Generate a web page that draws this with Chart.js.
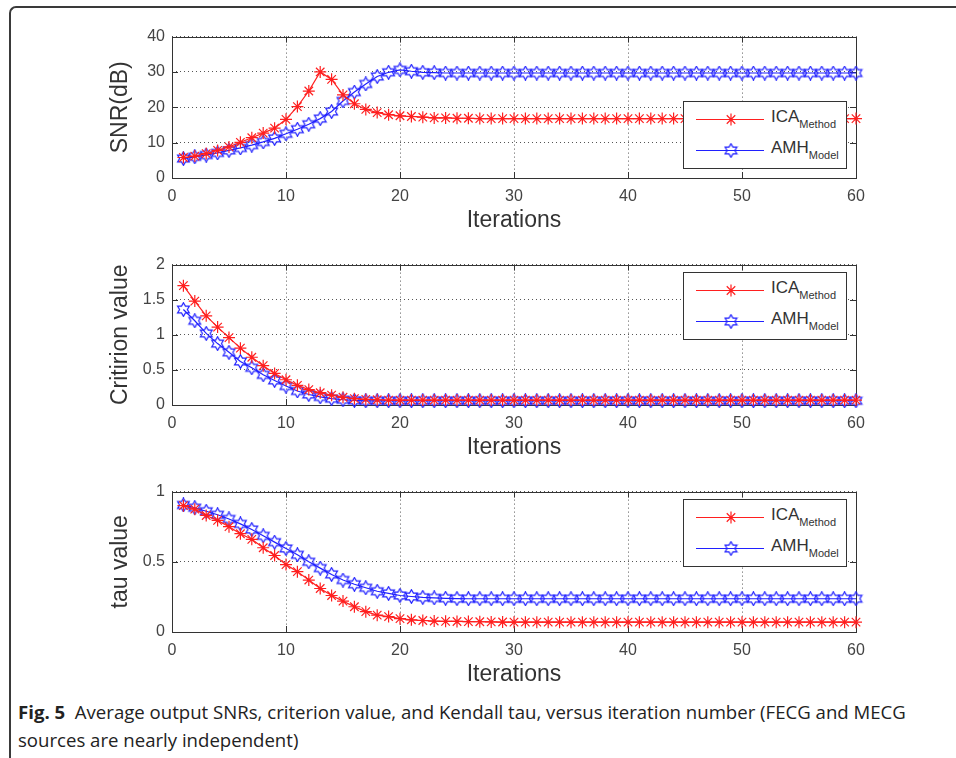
<!DOCTYPE html>
<html>
<head>
<meta charset="utf-8">
<script src="https://cdn.jsdelivr.net/npm/chart.js@4.4.0/dist/chart.umd.min.js"></script>
<style>
  body { margin: 0; background: #fff; width: 956px; height: 758px; overflow: hidden; position: relative; font-family: 'Liberation Sans', Arial, sans-serif; }
  .frame { position: absolute; left: 9px; top: 6px; width: 980px; height: 780px; border-left: 2px solid #3a3a3a; border-top: 2px solid #3a3a3a; border-top-left-radius: 7px; }
  .panel { position: absolute; left: 100px; }
  .legend { position: absolute; left: 683px; width: 164px; height: 68px; border: 1px solid #333; background: #fff; box-sizing: border-box; }
  .legend canvas { position: absolute; left: 12px; }
  .legend .lbl { position: absolute; left: 87px; font-size: 17px; color: #333; white-space: nowrap; }
  .legend .lbl sub { font-size: 11px; vertical-align: -6px; }
  .caption { position: absolute; left: 18px; top: 698px; font-family: 'Open Sans', sans-serif; font-size: 18.6px; line-height: 28px; color: #222; }
  .caption b { font-weight: 700; }
</style>
</head>
<body>
<div class="frame"></div>

<div class="panel" style="top:20px"><canvas id="snrChart" width="780" height="220"></canvas></div>
<div class="panel" style="top:248px"><canvas id="critChart" width="780" height="219"></canvas></div>
<div class="panel" style="top:475px"><canvas id="tauChart" width="780" height="219"></canvas></div>

<div class="caption"><b>Fig. 5</b>&nbsp; Average output SNRs, criterion value, and Kendall tau, versus iteration number (FECG and MECG<br>sources are nearly independent)</div>

<script>
// iteration numbers (x axis)
const iterations = [1, 2, 3, 4, 5, 6, 7, 8, 9, 10, 11, 12, 13, 14, 15, 16, 17, 18, 19, 20,
  21, 22, 23, 24, 25, 26, 27, 28, 29, 30, 31, 32, 33, 34, 35, 36, 37, 38, 39, 40,
  41, 42, 43, 44, 45, 46, 47, 48, 49, 50, 51, 52, 53, 54, 55, 56, 57, 58, 59, 60];
const xTicks = [0, 10, 20, 30, 40, 50, 60];

// SNR (dB)
const snrICA = [5.8, 6.2, 6.9, 7.8, 8.8, 10.1, 11.4, 12.7, 14.1, 16.6, 20.2, 24.6, 30.0, 27.9, 23.5, 21.0, 19.4, 18.5, 17.9, 17.6,
  17.4, 17.2, 17.0, 17.0, 16.9, 16.9, 16.8, 16.8, 16.8, 16.8, 16.8, 16.8, 16.8, 16.8, 16.8, 16.8, 16.8, 16.8, 16.8, 16.8,
  16.8, 16.8, 16.8, 16.8, 16.8, 16.8, 16.8, 16.8, 16.8, 16.8, 16.8, 16.8, 16.8, 16.8, 16.8, 16.8, 16.8, 16.8, 16.8, 16.8];
const snrAMH = [5.5, 6.0, 6.5, 7.1, 7.8, 8.5, 9.3, 10.2, 11.2, 12.5, 13.8, 15.2, 16.8, 18.8, 21.8, 24.3, 26.6, 28.7, 29.9, 30.6,
  30.2, 29.9, 29.8, 29.7, 29.7, 29.7, 29.7, 29.7, 29.7, 29.7, 29.7, 29.7, 29.7, 29.7, 29.7, 29.7, 29.7, 29.7, 29.7, 29.7,
  29.7, 29.7, 29.7, 29.7, 29.7, 29.7, 29.7, 29.7, 29.7, 29.7, 29.7, 29.7, 29.7, 29.7, 29.7, 29.7, 29.7, 29.7, 29.7, 29.7];
const snrTicks = [0, 10, 20, 30, 40];

// criterion value
const critICA = [1.70, 1.48, 1.27, 1.11, 0.96, 0.81, 0.68, 0.56, 0.45, 0.36, 0.28, 0.22, 0.175, 0.14, 0.11, 0.09, 0.08, 0.075, 0.07, 0.07,
  0.07, 0.07, 0.07, 0.07, 0.07, 0.07, 0.07, 0.07, 0.07, 0.07, 0.07, 0.07, 0.07, 0.07, 0.07, 0.07, 0.07, 0.07, 0.07, 0.07,
  0.07, 0.07, 0.07, 0.07, 0.07, 0.07, 0.07, 0.07, 0.07, 0.07, 0.07, 0.07, 0.07, 0.07, 0.07, 0.07, 0.07, 0.07, 0.07, 0.07];
const critAMH = [1.36, 1.20, 1.02, 0.875, 0.75, 0.62, 0.53, 0.43, 0.35, 0.27, 0.20, 0.15, 0.115, 0.09, 0.075, 0.065, 0.06, 0.06, 0.06, 0.06,
  0.06, 0.06, 0.06, 0.06, 0.06, 0.06, 0.06, 0.06, 0.06, 0.06, 0.06, 0.06, 0.06, 0.06, 0.06, 0.06, 0.06, 0.06, 0.06, 0.06,
  0.06, 0.06, 0.06, 0.06, 0.06, 0.06, 0.06, 0.06, 0.06, 0.06, 0.06, 0.06, 0.06, 0.06, 0.06, 0.06, 0.06, 0.06, 0.06, 0.06];
const critTicks = [0, 0.5, 1, 1.5, 2];

// Kendall tau
const tauICA = [0.90, 0.875, 0.83, 0.795, 0.75, 0.70, 0.66, 0.60, 0.545, 0.48, 0.43, 0.37, 0.31, 0.26, 0.22, 0.18, 0.145, 0.12, 0.11, 0.095,
  0.087, 0.082, 0.078, 0.076, 0.075, 0.074, 0.073, 0.072, 0.071, 0.07, 0.07, 0.07, 0.07, 0.07, 0.07, 0.07, 0.07, 0.07, 0.07, 0.07,
  0.07, 0.07, 0.07, 0.07, 0.07, 0.07, 0.07, 0.07, 0.07, 0.07, 0.07, 0.07, 0.07, 0.07, 0.07, 0.07, 0.07, 0.07, 0.07, 0.07];
const tauAMH = [0.905, 0.885, 0.86, 0.835, 0.805, 0.77, 0.73, 0.685, 0.64, 0.595, 0.55, 0.50, 0.455, 0.41, 0.37, 0.34, 0.315, 0.29, 0.275, 0.26,
  0.253, 0.247, 0.243, 0.24, 0.238, 0.237, 0.237, 0.237, 0.237, 0.237, 0.237, 0.237, 0.237, 0.237, 0.237, 0.237, 0.237, 0.237, 0.237, 0.237,
  0.237, 0.237, 0.237, 0.237, 0.237, 0.237, 0.237, 0.237, 0.237, 0.237, 0.237, 0.237, 0.237, 0.237, 0.237, 0.237, 0.237, 0.237, 0.237, 0.237];
const tauTicks = [0, 0.5, 1];

const RED = '#ff1f1f';
const BLUE = '#2020ff';

// hexagram marker (matlab 'h')
function hexagram(color) {
  const c = document.createElement('canvas');
  c.width = 15; c.height = 15;
  const g = c.getContext('2d');
  g.strokeStyle = color;
  g.lineWidth = 1.2;
  g.beginPath();
  for (let i = 0; i < 12; i++) {
    const r = i % 2 === 0 ? 6.8 : 3.9;
    const a = -Math.PI / 2 + i * Math.PI / 6;
    const px = 7.5 + r * Math.cos(a), py = 7.5 + r * Math.sin(a);
    if (i === 0) g.moveTo(px, py); else g.lineTo(px, py);
  }
  g.closePath();
  g.stroke();
  return c;
}
const hexMarker = hexagram(BLUE);

// box around the axes + inward tick marks, like matlab
const boxPlugin = {
  id: 'box',
  beforeDatasetsDraw(chart) {
    const { ctx, chartArea: a, scales } = chart;
    ctx.save();
    ctx.strokeStyle = '#333';
    ctx.lineWidth = 1;
    ctx.beginPath();
    scales.x.ticks.forEach(t => {
      const px = Math.round(scales.x.getPixelForValue(t.value)) + 0.5;
      ctx.moveTo(px, a.bottom); ctx.lineTo(px, a.bottom - 6);
      ctx.moveTo(px, a.top); ctx.lineTo(px, a.top + 6);
    });
    scales.y.ticks.forEach(t => {
      const py = Math.round(scales.y.getPixelForValue(t.value)) + 0.5;
      ctx.moveTo(a.left, py); ctx.lineTo(a.left + 6, py);
      ctx.moveTo(a.right, py); ctx.lineTo(a.right - 6, py);
    });
    ctx.stroke();
    ctx.strokeRect(Math.round(a.left) + 0.5, Math.round(a.top) + 0.5, Math.round(a.right - a.left), Math.round(a.bottom - a.top));
    ctx.restore();
  }
};

function makePanel(id, yTitle, yTicks, ica, amh) {
  const ctx = document.getElementById(id).getContext('2d');
  return new Chart(ctx, {
    type: 'line',
    data: {
      datasets: [{
        label: 'ICA',
        data: iterations.map((it, i) => ({ x: it, y: ica[i] })),
        borderColor: RED,
        borderWidth: 1.2,
        pointStyle: 'star',
        pointRadius: 6,
        pointBorderColor: RED,
        pointBorderWidth: 1.2,
        pointBackgroundColor: RED,
        clip: false
      }, {
        label: 'AMH',
        data: iterations.map((it, i) => ({ x: it, y: amh[i] })),
        borderColor: BLUE,
        borderWidth: 1.2,
        pointStyle: hexMarker,
        pointRadius: 6,
        clip: false
      }]
    },
    options: {
      responsive: false,
      animation: false,
      events: [],
      layout: { padding: { top: 12, right: 24, left: 0, bottom: 0 } },
      plugins: { legend: { display: false }, tooltip: { enabled: false } },
      scales: {
        x: {
          type: 'linear',
          min: xTicks[0],
          max: xTicks[xTicks.length - 1],
          afterBuildTicks: s => { s.ticks = xTicks.map(v => ({ value: v })); },
          afterFit: s => { s.height = 62; },
          grid: { color: '#555', drawTicks: false },
          border: { display: false, dash: [1, 3] },
          ticks: { padding: 9, color: '#444', font: { family: 'Liberation Sans', size: 16 }, callback: v => String(v) },
          title: { display: true, text: 'Iterations', color: '#333', padding: { top: 0, bottom: 6 }, font: { family: 'Liberation Sans', size: 23 } }
        },
        y: {
          min: yTicks[0],
          max: yTicks[yTicks.length - 1],
          afterBuildTicks: s => { s.ticks = yTicks.map(v => ({ value: v })); },
          afterFit: s => { s.width = 72; },
          grid: { color: '#555', drawTicks: false },
          border: { display: false, dash: [1, 3] },
          ticks: { padding: 7, color: '#444', font: { family: 'Liberation Sans', size: 16 }, callback: v => String(v) },
          title: { display: true, text: yTitle, color: '#333', padding: { top: 7, bottom: 0 }, font: { family: 'Liberation Sans', size: 23 } }
        }
      }
    },
    plugins: [boxPlugin]
  });
}

makePanel('snrChart', 'SNR(dB)', snrTicks, snrICA, snrAMH);
makePanel('critChart', 'Critirion value', critTicks, critICA, critAMH);
makePanel('tauChart', 'tau value', tauTicks, tauICA, tauAMH);

// legends (inside the axes, top right / lower right)
function sample(color, marker) {
  const c = document.createElement('canvas');
  c.width = 70; c.height = 16;
  const g = c.getContext('2d');
  g.strokeStyle = color;
  g.lineWidth = 1.2;
  g.beginPath(); g.moveTo(0, 8.5); g.lineTo(68, 8.5); g.stroke();
  if (marker === 'star') {
    g.beginPath();
    for (let k = 0; k < 4; k++) {
      const a = k * Math.PI / 4;
      g.moveTo(35 - 6 * Math.cos(a), 8.5 - 6 * Math.sin(a));
      g.lineTo(35 + 6 * Math.cos(a), 8.5 + 6 * Math.sin(a));
    }
    g.stroke();
  } else {
    g.drawImage(hexMarker, 35 - 7.5, 1);
  }
  return c;
}
function addLegend(top) {
  const box = document.createElement('div');
  box.className = 'legend';
  box.style.top = top + 'px';
  const rows = [
    { color: RED, marker: 'star', name: 'ICA', sub: 'Method', y: 17 },
    { color: BLUE, marker: 'hex', name: 'AMH', sub: 'Model', y: 48 }
  ];
  rows.forEach(r => {
    const c = sample(r.color, r.marker);
    c.style.top = (r.y - 8) + 'px';
    box.appendChild(c);
    const t = document.createElement('div');
    t.className = 'lbl';
    t.style.top = (r.y - 12) + 'px';
    t.innerHTML = r.name + '<sub>' + r.sub + '</sub>';
    box.appendChild(t);
  });
  document.body.appendChild(box);
}
addLegend(101);
addLegend(272);
addLegend(499);
</script>
</body>
</html>
